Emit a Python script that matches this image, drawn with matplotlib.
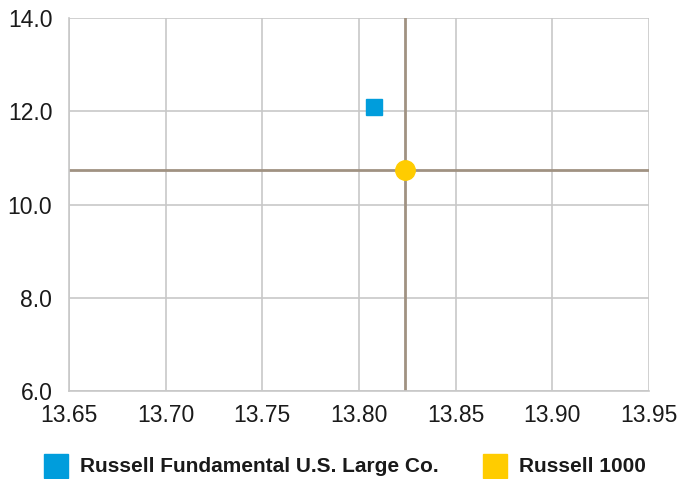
import matplotlib
matplotlib.use("Agg")
import matplotlib.pyplot as plt
from matplotlib.patches import Rectangle

# 数据
series_names = ["Russell Fundamental U.S. Large Co.", "Russell 1000"]
x_values = [13.808, 13.824]
y_values = [12.10, 10.74]
colors = ["#009ddc", "#ffcc00"]
markers = ["s", "o"]
x_ticks = [13.65, 13.70, 13.75, 13.80, 13.85, 13.90, 13.95]
y_ticks = [6.0, 8.0, 10.0, 12.0, 14.0]

plt.rcParams["font.family"] = ["Liberation Sans", "DejaVu Sans"]

W, H = 682, 479
fig = plt.figure(figsize=(W / 100, H / 100), dpi=100)
ax = fig.add_axes([69 / W, 1 - 391 / H, 580 / W, 373 / H])

ax.set_xlim(13.65, 13.95)
ax.set_ylim(6.0, 14.0)
ax.set_xticks(x_ticks)
ax.set_yticks(y_ticks)
ax.set_xticklabels(["{:.2f}".format(v) for v in x_ticks])
ax.set_yticklabels(["{:.1f}".format(v) for v in y_ticks])
ax.tick_params(length=0, labelsize=16.5, colors="#1a1a1a")
ax.tick_params(axis="x", pad=9)
ax.tick_params(axis="y", pad=12)
ax.grid(True, color="#c8c8c8", linewidth=1.2)
ax.set_axisbelow(True)
for s in ax.spines.values():
    s.set_visible(False)
for side in ["left", "bottom"]:
    ax.spines[side].set_visible(True)
    ax.spines[side].set_color("#c8c8c8")
    ax.spines[side].set_linewidth(1.2)

# 十字线，以 Russell 1000 为中心
ax.axhline(y_values[1], color="#a09282", linewidth=2, zorder=2)
ax.axvline(x_values[1], color="#a09282", linewidth=2, zorder=2)

sizes = [11, 14]
for i in range(len(series_names)):
    ax.plot(x_values[i], y_values[i], marker=markers[i], color=colors[i],
            markersize=sizes[i], linestyle="none", zorder=5, clip_on=False)

# 图例：手动放置
legend_x = [44, 483]
box = 24
ymid = 466
for i in range(len(series_names)):
    fig.patches.append(Rectangle((legend_x[i] / W, 1 - (ymid + box / 2) / H),
                                 box / W, box / H, color=colors[i],
                                 transform=fig.transFigure))
    fig.text((legend_x[i] + box + 12) / W, 1 - ymid / H, series_names[i],
             ha="left", va="center", fontsize=15, fontweight="bold",
             color="#1a1a1a")

fig.savefig("out.png", dpi=100)
